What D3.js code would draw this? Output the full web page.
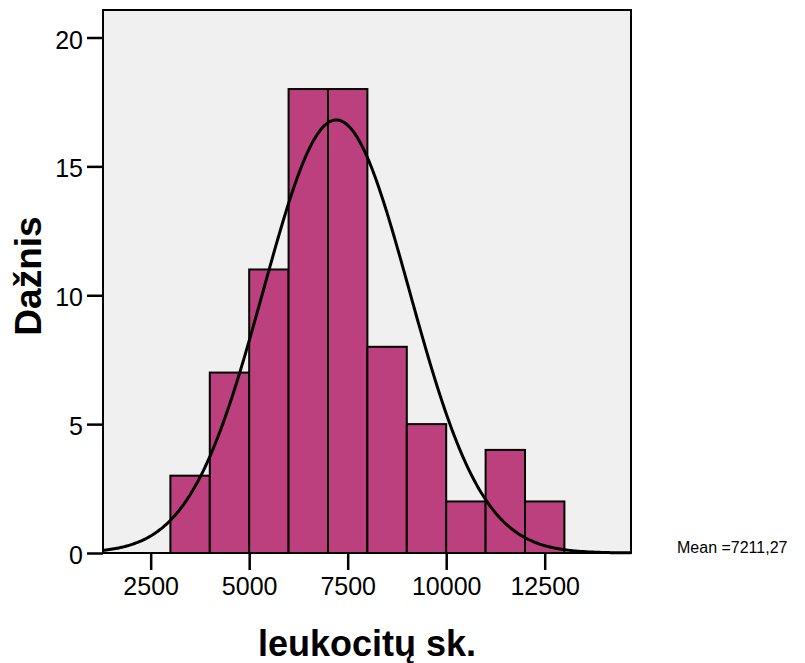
<!DOCTYPE html>
<html>
<head>
<meta charset="utf-8">
<script src="https://cdn.jsdelivr.net/npm/d3@7"></script>
<style>
  html, body { margin: 0; padding: 0; background: #fff; }
  svg { display: block; font-family: "Liberation Sans", Arial, sans-serif; }
</style>
</head>
<body>
<svg id="chart" width="805" height="663"></svg>
<script>
// ---- data ----
const binStarts = [3000, 4000, 5000, 6000, 7000, 8000, 9000, 10000, 11000, 12000];
const binWidth = 1000;
const counts = [3, 7, 11, 18, 18, 8, 5, 2, 4, 2];
const xTicks = [2500, 5000, 7500, 10000, 12500];
const yTicks = [0, 5, 10, 15, 20];
const meanValue = 7211.27;
const stdDev = 1852;
const nTotal = 78;
const meanLabel = "Mean =7211,27";
const xTitle = "leukocitų sk.";
const yTitle = "Dažnis";

// ---- layout ----
const svg = d3.select("#chart");
const plot = { left: 103, right: 631, top: 10, bottom: 553 };

const x = d3.scaleLinear().domain([1290, 14690]).range([plot.left, plot.right]);
const y = d3.scaleLinear().domain([0, 20]).range([plot.bottom, 37.5]);

// background
svg.append("rect")
  .attr("x", plot.left).attr("y", plot.top)
  .attr("width", plot.right - plot.left).attr("height", plot.bottom - plot.top)
  .attr("fill", "#f0f0f0");

// bars
svg.append("g").selectAll("rect")
  .data(binStarts.map((s, i) => ({ s, c: counts[i] })))
  .join("rect")
  .attr("x", d => x(d.s))
  .attr("y", d => y(d.c))
  .attr("width", d => x(d.s + binWidth) - x(d.s))
  .attr("height", d => y(0) - y(d.c))
  .attr("fill", "#bc407e")
  .attr("stroke", "#000")
  .attr("stroke-width", 2);

// normal curve
const xs = d3.range(x.domain()[0], x.domain()[1] + 1, 40);
const dens = v => nTotal * binWidth / (stdDev * Math.sqrt(2 * Math.PI)) *
  Math.exp(-0.5 * Math.pow((v - meanValue) / stdDev, 2));
svg.append("path")
  .datum(xs)
  .attr("d", d3.line().x(v => x(v)).y(v => y(dens(v))))
  .attr("fill", "none")
  .attr("stroke", "#000")
  .attr("stroke-width", 3);

// frame
svg.append("rect")
  .attr("x", plot.left).attr("y", plot.top)
  .attr("width", plot.right - plot.left).attr("height", plot.bottom - plot.top)
  .attr("fill", "none").attr("stroke", "#000").attr("stroke-width", 2);

// y axis
const yAxis = d3.axisLeft(y).tickValues(yTicks).tickSize(16).tickPadding(4).tickFormat(d3.format("d"));
const gy = svg.append("g").attr("transform", `translate(${plot.left},0)`).call(yAxis);
gy.select(".domain").remove();
gy.selectAll(".tick line").attr("stroke", "#000").attr("stroke-width", 2.5);
gy.selectAll(".tick text").attr("font-size", 25).attr("fill", "#000")
  .attr("dy", "0.42em")
  .attr("font-family", "Liberation Sans, Arial, sans-serif");

// x axis
const xAxis = d3.axisBottom(x).tickValues(xTicks).tickSize(17).tickPadding(7).tickFormat(d3.format("d"));
const gx = svg.append("g").attr("transform", `translate(0,${plot.bottom})`).call(xAxis);
gx.select(".domain").remove();
gx.selectAll(".tick line").attr("stroke", "#000").attr("stroke-width", 2.5);
gx.selectAll(".tick text").attr("font-size", 25).attr("fill", "#000")
  .attr("font-family", "Liberation Sans, Arial, sans-serif");

// titles
svg.append("text")
  .attr("x", 367).attr("y", 656)
  .attr("text-anchor", "middle")
  .attr("font-size", 36).attr("font-weight", "bold")
  .text(xTitle);

svg.append("text")
  .attr("transform", "translate(41,276) rotate(-90)")
  .attr("text-anchor", "middle")
  .attr("font-size", 37).attr("font-weight", "bold")
  .text(yTitle);

// mean label
svg.append("text")
  .attr("x", 677).attr("y", 553)
  .attr("font-size", 16)
  .text(meanLabel);
</script>
</body>
</html>
